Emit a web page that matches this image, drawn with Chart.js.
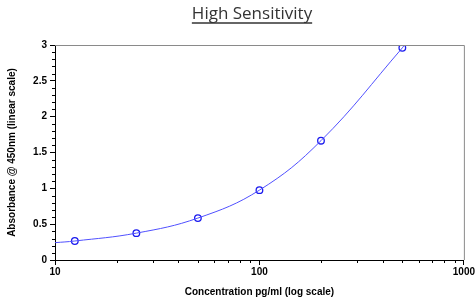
<!DOCTYPE html>
<html>
<head>
<meta charset="utf-8">
<script src="https://cdn.jsdelivr.net/npm/chart.js@4.4.1/dist/chart.umd.min.js"></script>
<style>
  html, body { margin: 0; padding: 0; background: #fff; }
  #wrap { width: 476px; height: 298px; }
</style>
</head>
<body>
<div id="wrap"><canvas id="chart" width="476" height="298"></canvas></div>
<script>
// standards
const concentrations = [12.5, 25, 50, 100, 200, 500];
const absorbance = [0.265, 0.375, 0.585, 0.975, 1.665, 2.96];

// fitted curve
const curveConc = [10, 12.5, 25, 50, 100, 200, 500, 520];
const curveAbs = [0.242, 0.265, 0.375, 0.585, 0.975, 1.665, 2.96, 3.03];

const xTickLabels = [10, 100, 1000];
const yTickLabels = [0, 0.5, 1, 1.5, 2, 2.5, 3];

const titleText = 'High Sensitivity';
const xTitle = 'Concentration pg/ml (log scale)';
const yTitle = 'Absorbance @ 450nm (linear scale)';

const axisFont = { family: 'Liberation Sans, Arial, sans-serif', size: 10, weight: 'bold' };

// box, minor ticks and the underlined title
const extras = {
  id: 'extras',
  afterDraw(chart) {
    const ctx = chart.ctx;
    const a = chart.chartArea;
    const xs = chart.scales.x, ys = chart.scales.y;
    ctx.save();
    // top and right edges of the frame
    ctx.strokeStyle = '#8a8a8a';
    ctx.lineWidth = 1;
    ctx.beginPath();
    ctx.moveTo(a.left, a.top + 0.5);
    ctx.lineTo(a.right + 0.5, a.top + 0.5);
    ctx.lineTo(a.right + 0.5, a.bottom);
    ctx.stroke();

    // minor ticks
    ctx.strokeStyle = '#000';
    ctx.beginPath();
    for (let v = 0.1; v < 3; v += 0.1) {
      if (Math.abs(v * 2 - Math.round(v * 2)) < 1e-6) continue;
      const y = Math.round(ys.getPixelForValue(v)) + 0.5;
      ctx.moveTo(a.left - 3, y);
      ctx.lineTo(a.left, y);
    }
    [10, 100].forEach(d => {
      for (let m = 2; m <= 9; m++) {
        const x = Math.round(xs.getPixelForValue(d * m)) + 0.5;
        ctx.moveTo(x, a.bottom);
        ctx.lineTo(x, a.bottom + 3);
      }
    });
    ctx.stroke();

    // title
    ctx.font = '500 17px "Open Sans", sans-serif';
    ctx.fillStyle = '#333';
    ctx.textAlign = 'center';
    ctx.textBaseline = 'alphabetic';
    const cx = 252;
    ctx.fillText(titleText, cx, 19);
    const w = ctx.measureText(titleText).width;
    ctx.strokeStyle = '#333';
    ctx.lineWidth = 1.5;
    ctx.beginPath();
    ctx.moveTo(cx - w / 2, 23);
    ctx.lineTo(cx + w / 2, 23);
    ctx.stroke();
    ctx.restore();
  }
};

new Chart(document.getElementById('chart'), {
  type: 'scatter',
  data: {
    datasets: [
      {
        type: 'line',
        data: curveConc.map((c, i) => ({ x: c, y: curveAbs[i] })),
        borderColor: '#5050ff',
        borderWidth: 1,
        pointRadius: 0,
        fill: false,
        tension: 0.4
      },
      {
        data: concentrations.map((c, i) => ({ x: c, y: absorbance[i] })),
        showLine: false,
        pointStyle: 'circle',
        pointRadius: 3.3,
        pointBorderWidth: 1.3,
        pointBorderColor: '#1a1aee',
        pointBackgroundColor: 'rgba(0,0,0,0)'
      }
    ]
  },
  options: {
    responsive: false,
    animation: false,
    layout: { padding: { top: 45, right: 12, bottom: 0, left: 0 } },
    plugins: { legend: { display: false }, tooltip: { enabled: false } },
    scales: {
      x: {
        type: 'logarithmic',
        min: 10,
        max: 1000,
        afterBuildTicks: s => { s.ticks = xTickLabels.map(v => ({ value: v })); },
        afterFit: s => { s.height = 38; },
        border: { color: '#000', width: 1 },
        grid: { drawOnChartArea: false, drawTicks: true, tickLength: 5, tickColor: '#000' },
        ticks: {
          autoSkip: false, maxRotation: 0, padding: 1, color: '#000', font: axisFont,
          callback: v => String(v)
        },
        title: { display: true, text: xTitle, color: '#000', font: axisFont, padding: { top: 0, bottom: 0 } }
      },
      y: {
        min: 0,
        max: 3,
        afterBuildTicks: s => { s.ticks = yTickLabels.map(v => ({ value: v })); },
        afterFit: s => { s.width = 55; },
        border: { color: '#000', width: 1 },
        grid: { drawOnChartArea: false, drawTicks: true, tickLength: 5, tickColor: '#000' },
        ticks: { padding: 3, color: '#000', font: axisFont, callback: v => String(v) },
        title: { display: true, text: yTitle, color: '#000', font: axisFont, padding: { top: 6, bottom: 0 } }
      }
    }
  },
  plugins: [extras]
});
</script>
</body>
</html>
